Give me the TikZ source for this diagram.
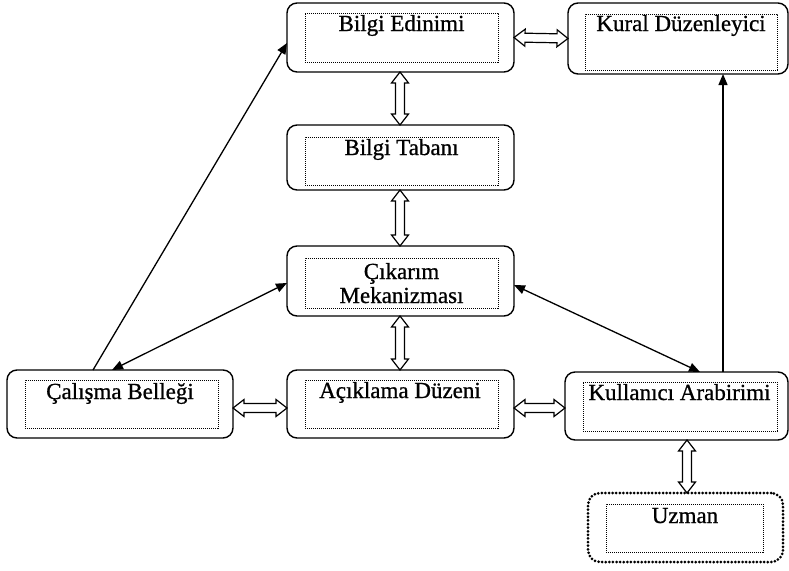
\documentclass[tikz,border=0pt]{standalone}
\usepackage{fontspec}
\setmainfont{Liberation Serif}
\newfontfamily\heavyserif{Liberation Serif}[FakeBold=0.8]
\usetikzlibrary{arrows.meta,calc}
\newcommand\hollowdbl[2]{%
  \draw[hollowline] (#1)
    -- ($(#1)!11pt!(#2)!8.5pt!90:(#2)$)
    -- ($(#1)!11pt!(#2)!4.5pt!90:(#2)$)
    -- ($(#2)!11pt!(#1)!4.5pt!-90:(#1)$)
    -- ($(#2)!11pt!(#1)!8.5pt!-90:(#1)$)
    -- (#2)
    -- ($(#2)!11pt!(#1)!8.5pt!90:(#1)$)
    -- ($(#2)!11pt!(#1)!4.5pt!90:(#1)$)
    -- ($(#1)!11pt!(#2)!4.5pt!-90:(#2)$)
    -- ($(#1)!11pt!(#2)!8.5pt!-90:(#2)$)
    -- cycle;}
\begin{document}
\begin{tikzpicture}[x=1pt,y=-1pt,
  outerbox/.style={draw, rounded corners=10pt, line width=1.4pt, inner sep=0pt, outer sep=0pt},
  dotbox/.style={draw, rounded corners=12pt, line width=3pt, dash pattern=on 0pt off 3.6pt, line cap=round, inner sep=0pt, outer sep=0pt},
  innerbox/.style={draw, line width=0.8pt, dash pattern=on 1.2pt off 0.8pt, inner sep=0pt, outer sep=0pt},
  lbl/.style={anchor=base, inner sep=0pt, font=\heavyserif\fontsize{23}{27}\selectfont},
  hollowline/.style={draw, fill=white, line width=1.2pt, line join=miter},
  thinarr/.style={line width=1.3pt, arrows={-Triangle[length=11pt,width=9pt]}},
  thindbl/.style={line width=1.3pt, arrows={Triangle[length=11pt,width=9pt]-Triangle[length=11pt,width=9pt]}}]
\useasboundingbox (0,0) rectangle (789,570);

% Bilgi Edinimi
\node[outerbox, minimum width=227pt, minimum height=69pt] (be) at (400.5,37.5) {};
\node[innerbox, minimum width=193pt, minimum height=49pt] (bei) at (401.5,37.5) {};
\node[lbl] (bet) at (401.5,31) {Bilgi Edinimi};

% Kural Duzenleyici
\node[outerbox, minimum width=220pt, minimum height=71pt] (kd) at (678,38.5) {};
\node[innerbox, minimum width=192pt, minimum height=56pt] (kdi) at (681,42) {};
\node[lbl] (kdt) at (681,31) {Kural Düzenleyici};

% Bilgi Tabani
\node[outerbox, minimum width=227pt, minimum height=65pt] (bt) at (400.5,157.5) {};
\node[innerbox, minimum width=193pt, minimum height=48pt] (bti) at (401.5,161) {};
\node[lbl] (btt) at (401.5,155) {Bilgi Tabanı};

% Cikarim Mekanizmasi
\node[outerbox, minimum width=227pt, minimum height=70pt] (cm) at (400.5,281) {};
\node[innerbox, minimum width=193pt, minimum height=50pt] (cmi) at (401.5,283) {};
\node[lbl] (cmt1) at (401.5,279) {Çıkarım};
\node[lbl] (cmt2) at (401.5,303) {Mekanizması};

% Calisma Bellegi
\node[outerbox, minimum width=226pt, minimum height=68pt] (cw) at (120,404) {};
\node[innerbox, minimum width=193pt, minimum height=48pt] (cwi) at (121.5,404) {};
\node[lbl] (cwt) at (120,399) {Çalışma Belleği};

% Aciklama Duzeni
\node[outerbox, minimum width=227pt, minimum height=68pt] (ad) at (400.5,404) {};
\node[innerbox, minimum width=193pt, minimum height=48pt] (adi) at (401.5,404) {};
\node[lbl] (adt) at (400,398) {Açıklama Düzeni};

% Kullanici Arabirimi
\node[outerbox, minimum width=223pt, minimum height=68pt] (ka) at (676.5,406) {};
\node[innerbox, minimum width=194pt, minimum height=49pt] (kai) at (680,406.5) {};
\node[lbl] (kat) at (679.5,400) {Kullanıcı Arabirimi};

% Uzman
\node[dotbox, minimum width=195pt, minimum height=69pt] (uz) at (685.5,527.5) {};
\node[innerbox, minimum width=157pt, minimum height=48pt] (uzi) at (684.5,528) {};
\node[lbl] (uzt) at (685,523) {Uzman};

% hollow double arrows
\hollowdbl{[xshift=-0.5pt]be.south}{[xshift=-0.5pt]bt.north}
\hollowdbl{[xshift=-0.5pt]bt.south}{[xshift=-0.5pt]cm.north}
\hollowdbl{[xshift=-0.5pt]cm.south}{[xshift=-0.5pt]ad.north}
\hollowdbl{be.east}{kd.west}
\hollowdbl{[yshift=-4pt]cw.east}{[yshift=-4pt]ad.west}
\hollowdbl{[yshift=-4pt]ad.east}{[yshift=-2pt]ka.west}
\hollowdbl{[xshift=10.5pt]ka.south}{[xshift=1.5pt]uz.north}

% thin arrows
\draw[thinarr] ([xshift=-27pt]cw.north) -- ([yshift=-5.5pt]be.west);
\draw[thindbl] ([xshift=-8pt]cw.north) -- ([yshift=-2pt]cm.west);
\draw[thindbl] ([yshift=-4pt]cm.east) -- ([xshift=23.5pt]ka.north);
\draw[thinarr] ([xshift=46.5pt]ka.north) -- ([xshift=45pt]kd.south);
\end{tikzpicture}
\end{document}
